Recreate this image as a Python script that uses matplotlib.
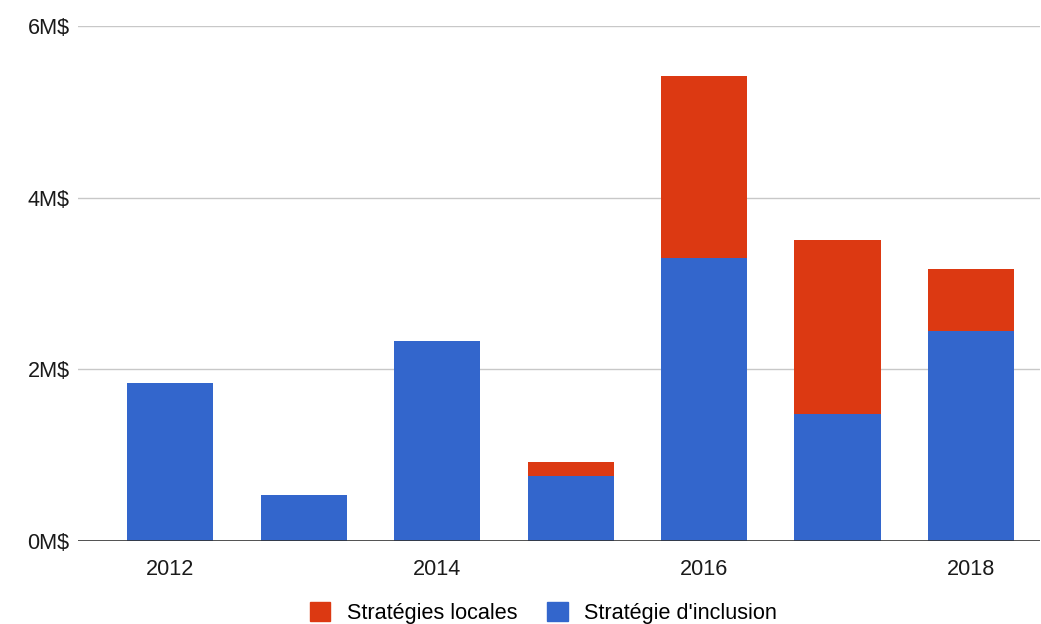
import matplotlib.pyplot as plt
from matplotlib.patches import Patch

# montants en millions de dollars
annees = ['2012', '2013', '2014', '2015', '2016', '2017', '2018']
inclusion = [1.84, 0.54, 2.33, 0.76, 3.30, 1.48, 2.45]
locales = [0.0, 0.0, 0.0, 0.16, 2.12, 2.03, 0.72]
yticks = [0, 2, 4, 6]

rouge = '#dc3912'
bleu = '#3366cc'

plt.rcParams['font.family'] = ['Liberation Sans', 'DejaVu Sans']

fig = plt.figure(figsize=(10.41, 6.24), dpi=100)
ax = fig.add_axes([0.075, 0.133, 0.924, 0.825])

x = list(range(len(annees)))
ax.bar(x, inclusion, width=0.645, color=bleu, zorder=3)
ax.bar(x, locales, width=0.645, bottom=inclusion, color=rouge, zorder=3)

ax.set_xlim(-0.69, 6.517)
ax.set_ylim(0, 6)
ax.set_yticks(yticks)
ax.set_yticklabels([f'{v}M$' for v in yticks])
ax.set_xticks(x[::2])
ax.set_xticklabels(annees[::2])

for v in yticks[1:]:
    ax.axhline(v, color='#c8c8c8', lw=1, zorder=1)
ax.axhline(0, color='#333333', lw=1.2, zorder=4)

for s in ax.spines.values():
    s.set_visible(False)
ax.tick_params(axis='both', length=0, labelsize=15.6, colors='#1a1a1a')
ax.tick_params(axis='y', pad=6)
ax.tick_params(axis='x', pad=13)

handles = [Patch(color=rouge, label='Stratégies locales'),
           Patch(color=bleu, label="Stratégie d'inclusion")]
fig.legend(handles=handles, loc='center', bbox_to_anchor=(0.522, 0.017),
           ncol=2, frameon=False, fontsize=15.6, handlelength=0.95,
           handleheight=0.95, handletextpad=0.75, columnspacing=1.4)

fig.savefig('out.png', dpi=100, facecolor='white')
